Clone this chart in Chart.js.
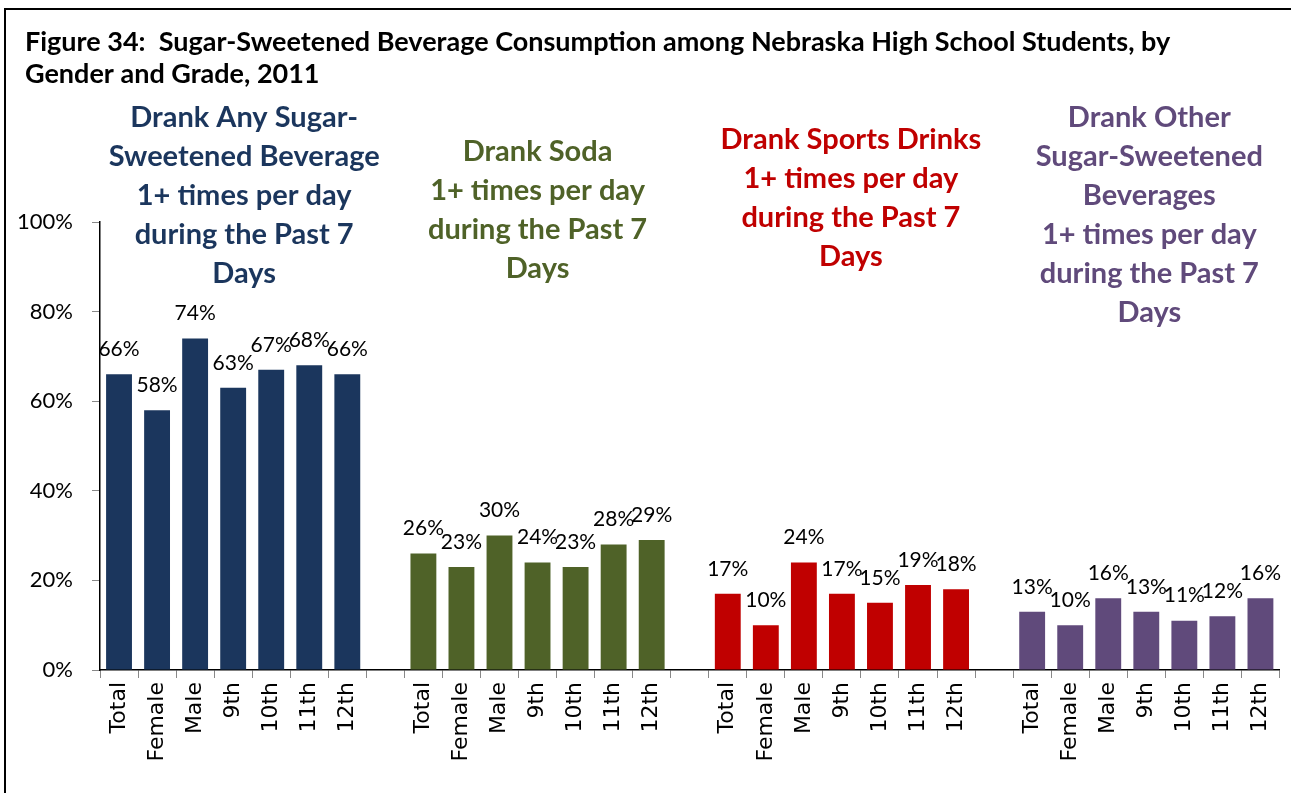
<!DOCTYPE html>
<html>
<head>
<meta charset="utf-8">
<title>Figure 34</title>
<script src="https://cdn.jsdelivr.net/npm/chart.js@4.4.1/dist/chart.umd.min.js"></script>
<style>
  html, body { margin: 0; padding: 0; background: #fff; }
  #wrap { position: relative; width: 1291px; height: 793px; overflow: hidden; }
  #frame { position: absolute; left: 4px; top: 8px; width: 1400px; height: 900px;
           border-left: 2px solid #000; border-top: 2px solid #000; pointer-events: none; }
  #chartCanvas { position: absolute; left: 0; top: 0; }
</style>
</head>
<body>
<div id="wrap">
  <canvas id="chartCanvas" width="1291" height="793"></canvas>
  <div id="frame"></div>
</div>
<script>
// subgroups shown under each beverage group
const categories = ['Total', 'Female', 'Male', '9th', '10th', '11th', '12th'];

// percent drinking 1+ times per day during the past 7 days
const anyBeverage = [66, 58, 74, 63, 67, 68, 66];
const soda = [26, 23, 30, 24, 23, 28, 29];
const sportsDrinks = [17, 10, 24, 17, 15, 19, 18];
const otherBeverages = [13, 10, 16, 13, 11, 12, 16];

const groupColors = ['#1B365D', '#4F6228', '#C00000', '#604A7B'];
const yTicks = [0, 20, 40, 60, 80, 100];

const titleLines = [
  'Figure 34:  Sugar-Sweetened Beverage Consumption among Nebraska High School Students, by',
  'Gender and Grade, 2011'
];
const groupTitles = [
  ['Drank Any Sugar-', 'Sweetened Beverage', '1+ times per day', 'during the Past 7', 'Days'],
  ['Drank Soda', '1+ times per day', 'during the Past 7', 'Days'],
  ['Drank Sports Drinks', '1+ times per day', 'during the Past 7', 'Days'],
  ['Drank Other', 'Sugar-Sweetened', 'Beverages', '1+ times per day', 'during the Past 7', 'Days']
];
// first line centre (px from top) and small x nudge for each heading
const groupTitleTop = [118, 152, 140, 118];
const groupTitleDx = [11, 0, 9, 3];

// build one long category axis with an empty slot between groups
const groups = [anyBeverage, soda, sportsDrinks, otherBeverages];
const labels = [];
const values = [];
const colors = [];
const groupCenters = [];
groups.forEach((g, gi) => {
  if (gi > 0) { labels.push(''); values.push(null); colors.push('#fff'); }
  groupCenters.push(labels.length + 3);
  g.forEach((v, i) => {
    labels.push(categories[i]);
    values.push(v);
    colors.push(groupColors[gi]);
  });
});

const textPlugin = {
  id: 'textPlugin',
  afterDatasetsDraw(chart) {
    const ctx = chart.ctx;
    const meta = chart.getDatasetMeta(0);
    ctx.save();
    ctx.fillStyle = '#000';
    ctx.font = '21px Lato';
    ctx.textAlign = 'center';
    ctx.textBaseline = 'middle';
    meta.data.forEach((bar, i) => {
      if (values[i] == null) return;
      ctx.fillText(values[i] + '%', bar.x, bar.y - 25);
    });
    ctx.restore();
  },
  afterDraw(chart) {
    const ctx = chart.ctx;
    const x = chart.scales.x;
    ctx.save();
    ctx.textBaseline = 'middle';
    ctx.fillStyle = '#000';
    ctx.textAlign = 'left';
    ctx.font = 'bold 27px Lato';
    titleLines.forEach((t, i) => ctx.fillText(t, 25, 42 + i * 32));

    ctx.textAlign = 'center';
    ctx.font = 'bold 29px Lato';
    groupTitles.forEach((lines, gi) => {
      ctx.fillStyle = groupColors[gi];
      const cx = x.getPixelForValue(groupCenters[gi]) + groupTitleDx[gi];
      lines.forEach((t, li) => ctx.fillText(t, cx, groupTitleTop[gi] + li * 39));
    });
    ctx.restore();
  }
};

new Chart(document.getElementById('chartCanvas').getContext('2d'), {
  type: 'bar',
  data: {
    labels: labels,
    datasets: [{
      data: values,
      backgroundColor: colors,
      barPercentage: 0.68,
      categoryPercentage: 1.0
    }]
  },
  options: {
    responsive: false,
    animation: false,
    events: [],
    layout: { padding: { left: 0, right: 10, top: 222, bottom: 0 } },
    plugins: {
      legend: { display: false },
      tooltip: { enabled: false }
    },
    scales: {
      x: {
        afterFit(scale) { scale.height = 123; },
        grid: { display: true, drawOnChartArea: false, offset: true, tickLength: 8, color: '#888', lineWidth: 1 },
        border: { color: '#000', width: 1.5 },
        ticks: {
          autoSkip: false,
          minRotation: 90,
          maxRotation: 90,
          padding: 4,
          color: '#000',
          font: { family: 'DejaVu Sans', size: 22 }
        }
      },
      y: {
        min: 0,
        max: 100,
        afterFit(scale) { scale.width = 100; },
        afterBuildTicks(scale) { scale.ticks = yTicks.map(v => ({ value: v })); },
        grid: { display: true, drawOnChartArea: false, tickLength: 8, color: '#888' },
        border: { color: '#000', width: 1.5 },
        ticks: {
          padding: 19,
          color: '#000',
          font: { family: 'Lato', size: 22 },
          callback: v => v + '%'
        }
      }
    }
  },
  plugins: [textPlugin]
});
</script>
</body>
</html>
